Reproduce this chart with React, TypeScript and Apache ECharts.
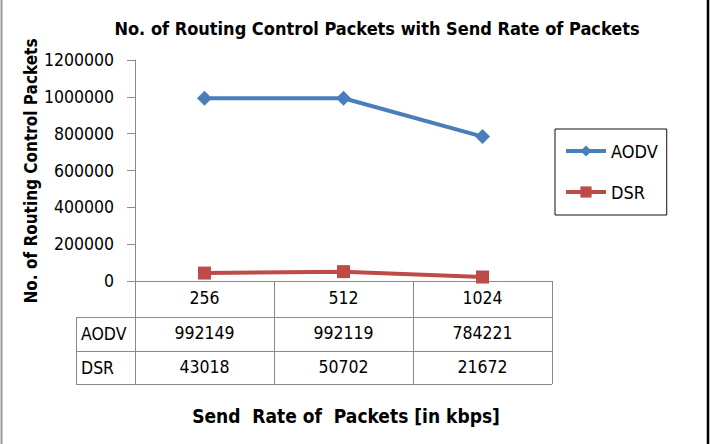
import React, { useEffect, useRef } from "react";
import * as echarts from "echarts";

const categories = ["256", "512", "1024"];
const seriesNames = ["AODV", "DSR"];
const aodvValues = [992149, 992119, 784221];
const dsrValues = [43018, 50702, 21672];
const yMin = 0;
const yMax = 1200000;
const yInterval = 200000;

const FONT = "DejaVu Sans Condensed";
const GRID = { left: 135, top: 60, width: 417, height: 221 };
const GREY = "#8a8a8a";
const BLUE = "#4A7EBB";
const RED = "#BE4B48";

export default function App() {
  const ref = useRef<HTMLDivElement>(null);
  useEffect(() => {
    if (!ref.current) return;
    const chart = echarts.init(ref.current, undefined, { renderer: "svg" });
    const bottom = GRID.top + GRID.height; // 281
    const right = GRID.left + GRID.width; // 552
    const rowH1 = 36;
    const rowH2 = 34;
    const rowH3 = 33;
    const tableLeft = 76;
    const rowLine = (y: number) => ({
      type: "line",
      shape: { x1: tableLeft, y1: y + 0.5, x2: right, y2: y + 0.5 },
      style: { stroke: GREY, lineWidth: 1 },
    });
    const yA = bottom + rowH1;
    const yD = yA + rowH2;
    const yEnd = yD + rowH3;
    const valueAxis = (data: number[], offset: number) => ({
      type: "category",
      data: data.map(String),
      gridIndex: 0,
      position: "bottom",
      offset,
      boundaryGap: true,
      axisLine: { show: false },
      axisTick: { show: false },
      axisLabel: { interval: 0, margin: 7, fontSize: 17.5, color: "#000", fontFamily: FONT },
    });
    chart.setOption({
      animation: false,
      textStyle: { fontFamily: FONT },
      grid: { ...GRID, containLabel: false },
      xAxis: [
        {
          type: "category",
          data: categories,
          boundaryGap: true,
          axisLine: { show: true, lineStyle: { color: GREY, width: 1 } },
          axisTick: { show: true, interval: 0, length: yEnd - bottom, lineStyle: { color: GREY, width: 1 } },
          axisLabel: { interval: 0, margin: 8, fontSize: 17.5, color: "#000", fontFamily: FONT },
        },
        valueAxis(aodvValues, rowH1),
        valueAxis(dsrValues, rowH1 + rowH2),
      ],
      yAxis: {
        type: "value",
        min: yMin,
        max: yMax,
        interval: yInterval,
        axisLine: { show: true, lineStyle: { color: GREY, width: 1 } },
        axisTick: { show: true, length: 8, lineStyle: { color: GREY, width: 1 } },
        splitLine: { show: false },
        axisLabel: {
          margin: 21,
          fontSize: 17.5,
          color: "#000",
          fontFamily: FONT,
          formatter: (v: number) => String(v),
        },
      },
      legend: {
        data: seriesNames,
        orient: "vertical",
        left: 555,
        top: 129,
        padding: [13, 9, 14, 9],
        itemGap: 23,
        itemWidth: 40,
        itemHeight: 14,
        borderColor: "#111",
        borderWidth: 1,
        lineStyle: { width: 4 },
        textStyle: { fontSize: 18, lineHeight: 14, color: "#000", fontFamily: FONT },
      },
      series: [
        {
          name: seriesNames[0],
          type: "line",
          data: aodvValues,
          xAxisIndex: 0,
          symbol: "diamond",
          symbolSize: 15,
          itemStyle: { color: BLUE },
          lineStyle: { color: BLUE, width: 4 },
        },
        {
          name: seriesNames[1],
          type: "line",
          data: dsrValues,
          xAxisIndex: 0,
          symbol: "rect",
          symbolSize: 13,
          itemStyle: { color: RED },
          lineStyle: { color: RED, width: 4 },
        },
      ],
      graphic: [
        {
          type: "text",
          x: 377,
          y: 28,
          style: {
            text: "No. of Routing Control Packets with Send Rate of Packets",
            font: `bold 18px "${FONT}"`,
            fill: "#000",
            textAlign: "center",
            textVerticalAlign: "middle",
          },
        },
        {
          type: "text",
          x: 31,
          y: 171,
          rotation: Math.PI / 2,
          style: {
            text: "No. of Routing Control Packets",
            font: `bold 17px "${FONT}"`,
            fill: "#000",
            textAlign: "center",
            textVerticalAlign: "middle",
          },
        },
        {
          type: "text",
          x: 346,
          y: 416,
          style: {
            text: "Send  Rate of  Packets [in kbps]",
            font: `bold 19px "${FONT}"`,
            fill: "#000",
            textAlign: "center",
            textVerticalAlign: "middle",
          },
        },
        rowLine(yA),
        rowLine(yD),
        rowLine(yEnd),
        {
          type: "line",
          shape: { x1: tableLeft + 0.5, y1: yA, x2: tableLeft + 0.5, y2: yEnd + 1 },
          style: { stroke: GREY, lineWidth: 1 },
        },
        {
          type: "text",
          x: 81,
          y: yA + rowH2 / 2,
          style: { text: seriesNames[0], font: `17.5px "${FONT}"`, fill: "#000", textAlign: "left", textVerticalAlign: "middle" },
        },
        {
          type: "text",
          x: 81,
          y: yD + rowH3 / 2,
          style: { text: seriesNames[1], font: `17.5px "${FONT}"`, fill: "#000", textAlign: "left", textVerticalAlign: "middle" },
        },
        {
          type: "line",
          shape: { x1: 1.5, y1: 0, x2: 1.5, y2: 444 },
          style: { stroke: "#999", lineWidth: 2 },
        },
        {
          type: "line",
          shape: { x1: 708, y1: 0, x2: 708, y2: 444 },
          style: { stroke: "#000", lineWidth: 2.5 },
        },
      ],
    });
    return () => chart.dispose();
  }, []);
  return (
    <div
      ref={ref}
      style={{ position: "fixed", left: 0, top: 0, width: 712, height: 444, background: "#fff" }}
    />
  );
}
